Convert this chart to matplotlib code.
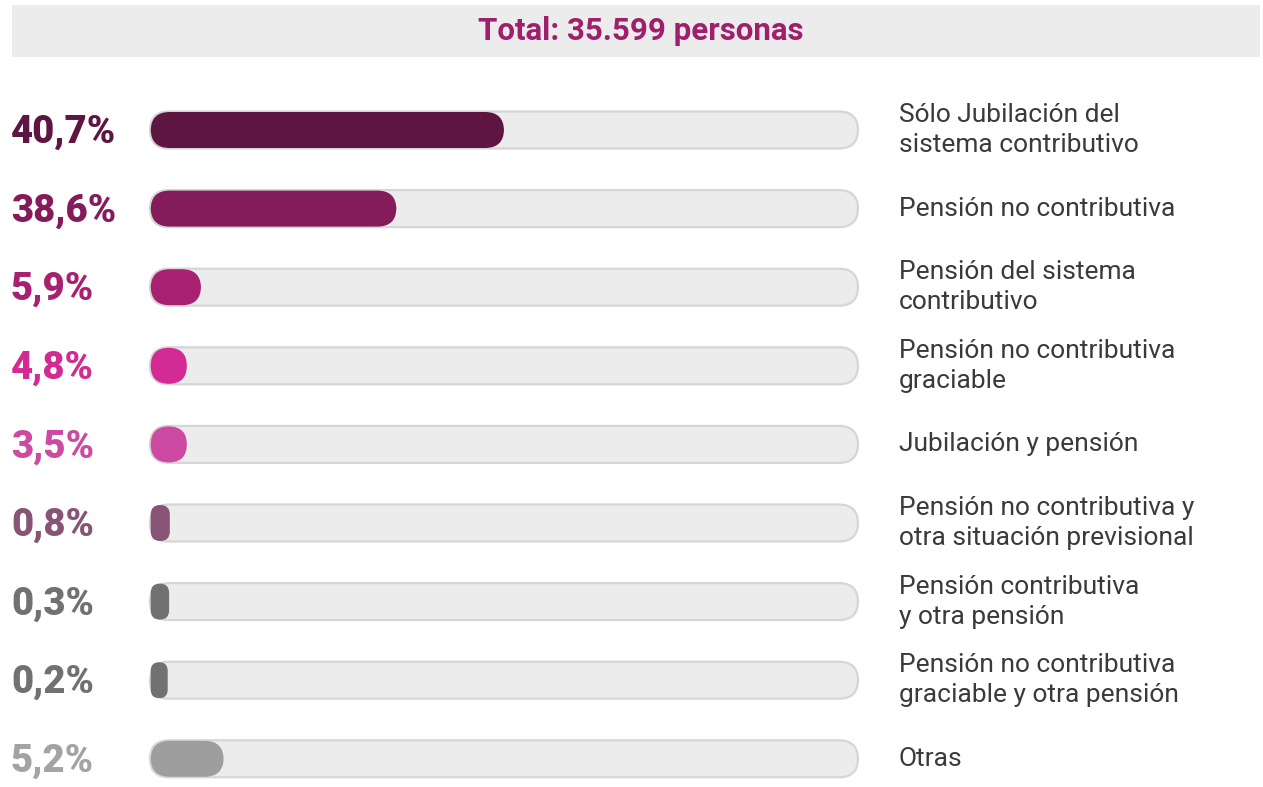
#! /usr/bin/env python3

import matplotlib
matplotlib.use("Agg")
from matplotlib import pyplot as plt
from matplotlib import transforms
from matplotlib.patches import FancyBboxPatch, Rectangle

plt.rcParams['font.family'] = ['Roboto', 'DejaVu Sans']

# Percent labels as printed, and the drawn bar length (% of the track)
pct_labels = ["40,7%", "38,6%", "5,9%", "4,8%", "3,5%", "0,8%", "0,3%", "0,2%", "5,2%"]
bar_len    = [49.9, 34.7, 7.1, 5.1, 5.1, 2.7, 2.6, 2.4, 10.3]
categories = ["Sólo Jubilación del\nsistema contributivo",
              "Pensión no contributiva",
              "Pensión del sistema\ncontributivo",
              "Pensión no contributiva\ngraciable",
              "Jubilación y pensión",
              "Pensión no contributiva y\notra situación previsional",
              "Pensión contributiva\ny otra pensión",
              "Pensión no contributiva\ngraciable y otra pensión",
              "Otras"]
colors     = ["#5e1542", "#841c5c", "#a72170", "#d32b93", "#cd4aa2",
              "#875475", "#717171", "#717171", "#9e9e9e"]
txt_colors = ["#5e1542", "#841c5c", "#a72170", "#d32b93", "#cd4aa2",
              "#875475", "#717171", "#717171", "#a3a3a3"]
title = "Total: 35.599 personas"

W, H = 1263, 787
fig = plt.figure(figsize=(W/100, H/100), dpi=100)

# title band
fig.patches.append(Rectangle((12/W, 1 - 57/H), 1248/W, 52/H, transform=fig.transFigure,
                             facecolor="#ececec", edgecolor="none"))
fig.text(641/W, 1 - 31/H, title, ha="center", va="center", fontsize=22.5,
         fontweight="bold", color="#a01f6c")

# track area: x 150..858 px, rows from 130 px down by 78.6 px
n = len(bar_len)
step = 78.6
y_lo, y_hi = -0.6, n - 0.7
top_px = 130 - 0.6*step
bot_px = 130 + (n - 1 + 0.3)*step
ax = fig.add_axes([150/W, 1 - bot_px/H, 708/W, (bot_px - top_px)/H])
ax.set_xlim(0, 100)
ax.set_ylim(y_hi, y_lo)
ax.axis("off")

px_x = 708/100.0   # px per x unit
px_y = step        # px per y unit
aspect = px_x/px_y
r_full = 19/px_x

def pill(x0, w, yc, h_px, **kw):
    h = h_px/px_y
    r = min(r_full, w/2.0)
    p = FancyBboxPatch((x0, yc - h/2), w, h,
                       boxstyle="round,pad=0,rounding_size=%f" % r,
                       mutation_aspect=aspect, clip_on=False, **kw)
    ax.add_patch(p)

lab_tr = transforms.blended_transform_factory(fig.transFigure, ax.transData)

for i in range(n):
    pill(0, 100, i, 37, facecolor="#ececec", edgecolor="#d6d6d6", linewidth=1.6)
    pill(0.1, bar_len[i], i, 36, facecolor=colors[i], edgecolor="none")
    ax.text(11/W, i + 0.03, pct_labels[i], transform=lab_tr, ha="left", va="center",
            fontsize=27.5, fontweight="black", color=txt_colors[i])
    ax.text(899/W, i, categories[i], transform=lab_tr, ha="left", va="center",
            fontsize=19, color="#3a3a3a", linespacing=1.32)

plt.savefig("out.png", dpi=100)
